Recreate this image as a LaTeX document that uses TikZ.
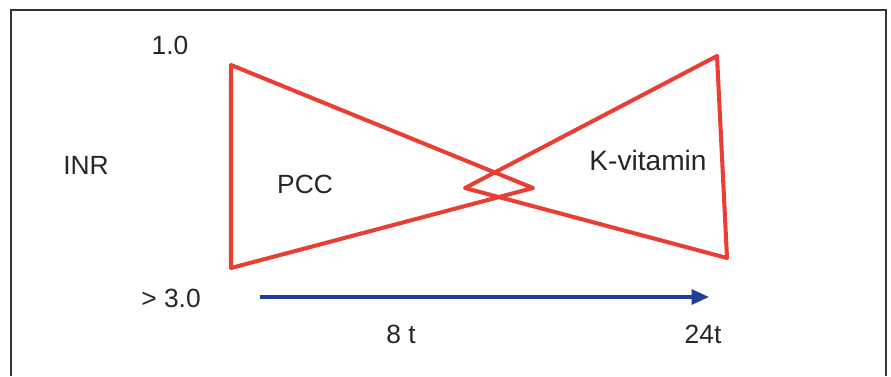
\documentclass[tikz,border=0pt]{standalone}
\usepackage{fontspec}
\setmainfont{Liberation Sans}
\usetikzlibrary{arrows.meta}
\definecolor{inrred}{RGB}{232,62,52}
\definecolor{timeblue}{RGB}{32,62,150}

\begin{document}
\begin{tikzpicture}[
    x=0.02cm, y=-0.02cm,
    lbl/.style={font=\fontsize{15}{17}\selectfont, text=black!85, inner sep=0pt},
    wedge/.style={draw=inrred, line width=2.3pt, line join=round},
    timeline/.style={draw=timeblue, line width=1.8pt, -{Triangle[length=3.5mm, width=3mm]}}
]
    \useasboundingbox (0,0) rectangle (891,376);

    % Cadre
    \draw[black!80, line width=0.8pt] (11,376) -- (11,10) -- (886,10) -- (886,376);

    % Coins des deux triangles
    \coordinate (pcc_top) at (231,65);
    \coordinate (pcc_bot) at (231,268);
    \coordinate (pcc_tip) at (533,188);
    \coordinate (kv_tip) at (465,188);
    \coordinate (kv_top) at (717,56);
    \coordinate (kv_bot) at (727,258);

    \draw[wedge] (pcc_top) -- (pcc_tip) -- (pcc_bot) -- cycle;
    \draw[wedge] (kv_tip) -- (kv_top) -- (kv_bot) -- cycle;

    % Axe du temps
    \coordinate (t_start) at (260,297);
    \coordinate (t_end) at (709,297);
    \draw[timeline] (t_start) -- (t_end);

    % Textes
    \node[lbl] (inr_low) at (170,45) {1.0};
    \node[lbl] (inr) at (86,165) {INR};
    \node[lbl] (inr_high) at (171,298) {> 3.0};
    \node[lbl] (pcc) at (305,184) {PCC};
    \node[lbl, font=\fontsize{16}{18}\selectfont] (kvit) at (648,160) {K-vitamin};
    \node[lbl] (t8) at (401,334) {8 t};
    \node[lbl] (t24) at (703,334) {24t};

\end{tikzpicture}
\end{document}
